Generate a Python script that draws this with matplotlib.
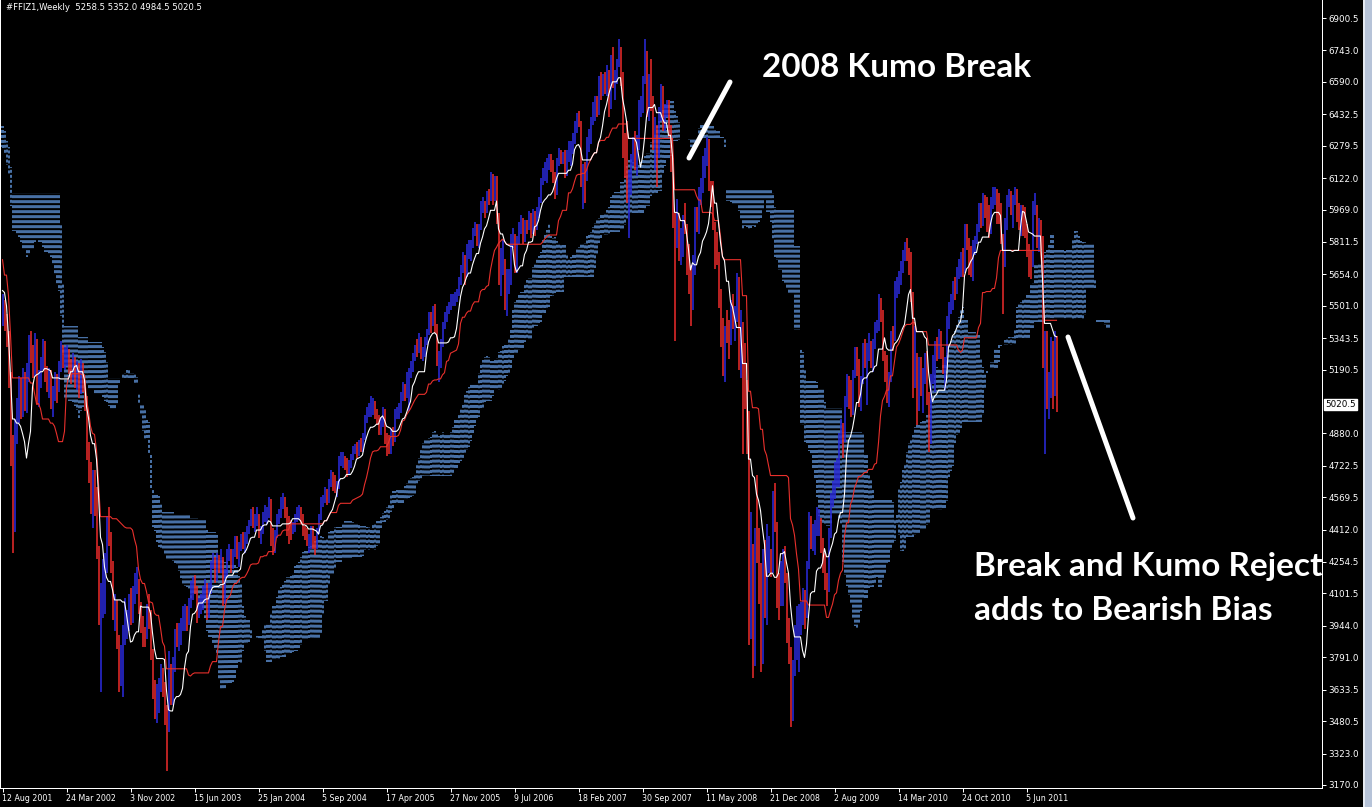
import numpy as np
import pandas as pd
import matplotlib
matplotlib.use("Agg")
import matplotlib.pyplot as plt
from matplotlib.collections import LineCollection
from matplotlib.lines import Line2D
from matplotlib.patches import Rectangle
import matplotlib.transforms as mtrans

# weekly bars of #FFIZ1, index 0 = week of 12 Aug 2001, last index 527 = week of 18 Sep 2011
first_open = 5450
closes = [
    # 2001
    5480, 5430, 5345, 5130, 4830, 4430, 4900, 4975, 5100, 5000, 5120, 5030, 5160, 5300, 5270, 5200, 5330, 5050, 5140, 5217, 5320,
    # 2002
    5170, 5130, 5160, 5050, 5060, 5150, 5100, 5200, 5290, 5250, 5260, 5270, 5210, 5170, 5240, 5130, 5200, 5080, 5200, 5100,
    5040, 4780, 4700, 4560, 4660, 4560, 4300, 4000, 4100, 4150, 4250, 4400, 4380, 4230, 4000, 4000, 3870, 3720, 3740, 3900,
    3950, 3980, 4060, 4000, 4100, 4150, 4160, 4030, 3950, 3900, 3890, 4010,
    # 2003
    3990, 3800, 3620, 3570, 3580, 3650, 3710, 3650, 3500, 3450, 3750, 3600, 3750, 3900, 3880, 3900, 3950, 3970, 4000, 3980,
    4050, 4100, 4150, 4130, 4000, 4050, 4050, 4100, 4130, 4000, 4130, 4240, 4270, 4170, 4260, 4240, 4280, 4070, 4190, 4300,
    4300, 4250, 4300, 4350, 4300, 4330, 4370, 4350, 4370, 4400, 4450, 4500,
    # 2004
    4450, 4460, 4480, 4390, 4400, 4480, 4490, 4490, 4550, 4370, 4350, 4390, 4470, 4490, 4550, 4560, 4490, 4440, 4430, 4420,
    4430, 4470, 4500, 4500, 4470, 4400, 4390, 4350, 4350, 4410, 4350, 4340, 4400, 4470, 4550, 4560, 4590, 4550, 4640, 4670,
    4650, 4620, 4620, 4750, 4750, 4750, 4720, 4700, 4720, 4760, 4800, 4810,
    # 2005
    4800, 4830, 4810, 4860, 4950, 4990, 5000, 5000, 5010, 4980, 4960, 4900, 4930, 4990, 4850, 4820, 4800, 4880, 4850, 4980,
    4980, 5000, 5050, 5110, 5060, 5160, 5180, 5200, 5250, 5290, 5280, 5340, 5260, 5270, 5330, 5370, 5450, 5410, 5480, 5400,
    5240, 5240, 5320, 5400, 5440, 5480, 5500, 5530, 5530, 5540, 5560, 5620,
    # 2006
    5680, 5730, 5650, 5780, 5780, 5790, 5860, 5880, 5820, 5880, 5990, 5990, 5960, 6030, 6020, 6130, 6020, 6100, 5930, 5660,
    5720, 5720, 5500, 5620, 5630, 5830, 5830, 5700, 5820, 5890, 5900, 5830, 5900, 5880, 5930, 5860, 5950, 5870, 5960, 6010,
    6100, 6150, 6150, 6200, 6200, 6190, 6130, 6050, 6200, 6250, 6220, 6220,
    # 2007
    6160, 6240, 6240, 6260, 6310, 6370, 6420, 6400, 6120, 6160, 6130, 6300, 6310, 6400, 6470, 6470, 6450, 6600, 6550, 6600,
    6550, 6600, 6480, 6700, 6580, 6600, 6680, 6720, 6600, 6250, 6230, 6040, 6060, 6210, 6300, 6200, 6300, 6460, 6470, 6590,
    6730, 6450, 6600, 6500, 6300, 6350, 6250, 6430, 6550, 6400, 6460, 6460,
    # 2008
    6350, 6200, 5900, 5870, 5880, 5780, 5790, 5890, 5880, 5700, 5690, 5500, 5690, 5950, 5900, 6060, 6090, 6200, 6220, 6300,
    6090, 6050, 5900, 5800, 5750, 5530, 5410, 5260, 5380, 5360, 5350, 5500, 5450, 5450, 5640, 5240, 5420, 5310, 5090, 4980,
    3950, 4250, 3880, 4380, 4370, 4230, 3780, 4290, 4050, 4280, 4320, 4220,
    # 2009
    4560, 4450, 4150, 4050, 4150, 4290, 4190, 3890, 3830, 3530, 3750, 3840, 3900, 3990, 3990, 4090, 4000, 4240, 4460, 4350,
    4380, 4420, 4440, 4440, 4350, 4240, 4150, 4130, 4390, 4560, 4610, 4700, 4720, 4850, 4900, 4850, 5040, 5130, 5050, 4990,
    5160, 5280, 5200, 5040, 5130, 5300, 5250, 5250, 5320, 5260, 5300, 5400, 5410,
    # 2010
    5530, 5460, 5260, 5190, 5060, 5140, 5360, 5350, 5600, 5600, 5650, 5700, 5750, 5790, 5740, 5720, 5550, 5120, 5260, 5060,
    5190, 5130, 5160, 5250, 5050, 4840, 5150, 5160, 5310, 5260, 5330, 5270, 5200, 5200, 5430, 5500, 5510, 5600, 5590, 5660,
    5700, 5740, 5670, 5880, 5800, 5730, 5670, 5790, 5810, 5880, 5990, 5900,
    # 2011
    6000, 5990, 5900, 5880, 6000, 6040, 6050, 6000, 5990, 5830, 5720, 5900, 6010, 6040, 5990, 6020, 6050, 5980, 5920, 5950,
    5940, 5860, 5770, 5710, 5700, 5990, 5990, 5840, 5900, 5800, 5250, 5320, 5040, 5130, 5290, 5210, 5258.5, 5020.5,
]
highs = [
    # 2001
    5560, 5530, 5460, 5380, 5180, 4870, 4950, 5050, 5160, 5150, 5200, 5180, 5220, 5360, 5380, 5310, 5370, 5340, 5190, 5250, 5340,
    # 2002
    5330, 5210, 5200, 5190, 5110, 5180, 5170, 5230, 5330, 5310, 5300, 5310, 5290, 5240, 5270, 5250, 5230, 5220, 5240, 5220,
    5130, 5060, 4840, 4740, 4700, 4700, 4620, 4330, 4150, 4270, 4300, 4480, 4520, 4400, 4260, 4100, 4070, 3900, 3850, 3950,
    4080, 4020, 4100, 4130, 4140, 4200, 4230, 4170, 4060, 3990, 3940, 4050,
    # 2003
    4100, 4020, 3830, 3680, 3660, 3690, 3760, 3740, 3670, 3560, 3820, 3760, 3790, 3930, 3960, 3960, 3980, 4040, 4050, 4040,
    4080, 4160, 4180, 4190, 4140, 4080, 4100, 4140, 4170, 4150, 4150, 4260, 4300, 4280, 4300, 4290, 4320, 4280, 4220, 4320,
    4340, 4320, 4320, 4380, 4380, 4350, 4390, 4400, 4400, 4430, 4460, 4510,
    # 2004
    4520, 4490, 4520, 4490, 4430, 4500, 4530, 4520, 4570, 4560, 4420, 4410, 4490, 4510, 4570, 4590, 4570, 4520, 4480, 4460,
    4450, 4490, 4520, 4530, 4520, 4490, 4430, 4420, 4390, 4430, 4430, 4380, 4420, 4490, 4570, 4580, 4620, 4610, 4660, 4700,
    4690, 4680, 4650, 4770, 4790, 4790, 4770, 4760, 4750, 4780, 4820, 4830,
    # 2005
    4840, 4850, 4860, 4880, 4970, 5010, 5030, 5060, 5050, 5040, 5000, 4970, 4960, 5010, 5000, 4880, 4870, 4900, 4910, 5000,
    5010, 5030, 5080, 5130, 5120, 5180, 5200, 5230, 5270, 5310, 5340, 5370, 5350, 5300, 5350, 5390, 5470, 5470, 5500, 5510,
    5410, 5280, 5340, 5420, 5470, 5500, 5520, 5560, 5560, 5570, 5580, 5640,
    # 2006
    5700, 5760, 5750, 5800, 5820, 5820, 5880, 5910, 5900, 5900, 6010, 6030, 6010, 6060, 6070, 6150, 6140, 6130, 6130, 5950,
    5780, 5820, 5730, 5680, 5680, 5850, 5880, 5850, 5840, 5910, 5940, 5930, 5920, 5920, 5960, 5950, 5970, 5960, 5980, 6030,
    6120, 6170, 6200, 6220, 6240, 6240, 6210, 6150, 6220, 6270, 6260, 6250,
    # 2007
    6260, 6260, 6300, 6300, 6340, 6400, 6440, 6450, 6400, 6190, 6200, 6320, 6360, 6420, 6490, 6520, 6520, 6620, 6640, 6630,
    6640, 6670, 6650, 6720, 6760, 6650, 6700, 6800, 6760, 6640, 6340, 6400, 6160, 6240, 6320, 6350, 6330, 6500, 6520, 6620,
    6800, 6740, 6630, 6700, 6520, 6420, 6380, 6470, 6580, 6570, 6480, 6500,
    # 2008
    6500, 6380, 6220, 5950, 6020, 5950, 5880, 5940, 6000, 5900, 5800, 5700, 5750, 5980, 5980, 6080, 6120, 6230, 6270, 6320,
    6310, 6110, 6110, 5910, 5860, 5760, 5580, 5440, 5400, 5480, 5430, 5530, 5560, 5500, 5660, 5640, 5480, 5420, 5320, 5140,
    4990, 4500, 4340, 4420, 4680, 4420, 4250, 4320, 4360, 4440, 4380, 4320,
    # 2009
    4600, 4640, 4450, 4200, 4260, 4320, 4330, 4200, 3980, 3840, 3780, 3950, 4040, 4050, 4060, 4130, 4120, 4260, 4500, 4480,
    4440, 4460, 4520, 4510, 4470, 4370, 4300, 4200, 4420, 4590, 4650, 4740, 4760, 4880, 4950, 4930, 5060, 5170, 5160, 5140,
    5190, 5300, 5300, 5240, 5160, 5320, 5340, 5320, 5370, 5330, 5340, 5420, 5430,
    # 2010
    5560, 5540, 5480, 5280, 5260, 5180, 5380, 5400, 5620, 5640, 5670, 5720, 5770, 5810, 5830, 5780, 5760, 5570, 5400, 5270,
    5250, 5250, 5200, 5270, 5280, 5080, 5170, 5260, 5330, 5350, 5390, 5380, 5300, 5250, 5450, 5520, 5560, 5620, 5640, 5690,
    5730, 5760, 5780, 5900, 5900, 5830, 5790, 5820, 5840, 5900, 6000, 6000,
    # 2011
    6050, 6040, 6030, 5990, 6030, 6080, 6080, 6070, 6050, 6000, 5850, 5930, 6040, 6070, 6060, 6040, 6080, 6070, 6000, 5990,
    5990, 5980, 5900, 5800, 5770, 6010, 6050, 5990, 5930, 5920, 5840, 5380, 5380, 5180, 5350, 5330, 5380, 5352.0,
]
lows = [
    # 2001
    5400, 5380, 5300, 5100, 4720, 4300, 4400, 4830, 4930, 4950, 4960, 4990, 4980, 5130, 5220, 5150, 5160, 5020, 5010, 5100, 5190,
    # 2002
    5130, 5080, 5050, 5000, 4960, 5040, 5030, 5080, 5180, 5200, 5190, 5210, 5170, 5120, 5140, 5100, 5090, 5050, 5070, 5080,
    4990, 4750, 4640, 4490, 4420, 4480, 4270, 3950, 3620, 3980, 4000, 4200, 4330, 4200, 3970, 3920, 3830, 3620, 3650, 3600,
    3850, 3880, 3920, 3950, 3960, 4050, 4100, 4000, 3910, 3840, 3840, 3880,
    # 2003
    3930, 3780, 3590, 3490, 3470, 3520, 3620, 3600, 3460, 3240, 3430, 3560, 3560, 3720, 3840, 3820, 3850, 3920, 3920, 3920,
    3950, 4030, 4070, 4100, 3960, 3980, 4000, 4020, 4060, 3970, 3980, 4100, 4220, 4150, 4160, 4200, 4200, 4040, 4050, 4180,
    4260, 4200, 4220, 4280, 4270, 4230, 4310, 4320, 4300, 4340, 4390, 4430,
    # 2004
    4420, 4400, 4430, 4370, 4340, 4390, 4450, 4440, 4470, 4330, 4290, 4300, 4370, 4440, 4470, 4510, 4470, 4380, 4340, 4360,
    4390, 4400, 4450, 4460, 4440, 4380, 4360, 4330, 4300, 4320, 4320, 4290, 4320, 4390, 4460, 4520, 4540, 4530, 4540, 4620,
    4600, 4590, 4570, 4610, 4720, 4710, 4700, 4670, 4680, 4710, 4750, 4780,
    # 2005
    4760, 4770, 4790, 4790, 4850, 4930, 4960, 4960, 4970, 4950, 4920, 4870, 4870, 4910, 4830, 4770, 4780, 4780, 4820, 4840,
    4950, 4950, 4980, 5040, 5040, 5050, 4990, 5150, 5180, 5230, 5250, 5270, 5240, 5230, 5250, 5310, 5360, 5370, 5400, 5370,
    5210, 5130, 5200, 5300, 5390, 5420, 5460, 5480, 5500, 5500, 5520, 5550,
    # 2006
    5600, 5660, 5600, 5640, 5730, 5720, 5780, 5840, 5790, 5780, 5870, 5950, 5930, 5950, 5990, 6010, 5990, 6010, 5900, 5600,
    5550, 5650, 5480, 5450, 5560, 5600, 5780, 5660, 5660, 5800, 5850, 5800, 5810, 5850, 5870, 5830, 5850, 5840, 5870, 5930,
    6000, 6090, 6110, 6100, 6160, 6150, 6100, 6020, 6040, 6180, 6190, 6190,
    # 2007
    6120, 6130, 6200, 6180, 6240, 6290, 6340, 6370, 6080, 5970, 6000, 6110, 6250, 6290, 6380, 6400, 6420, 6430, 6500, 6520,
    6530, 6520, 6420, 6460, 6560, 6500, 6580, 6660, 6570, 6220, 6120, 6000, 5830, 6040, 6180, 6160, 6130, 6260, 6420, 6440,
    6580, 6420, 6400, 6450, 6260, 6160, 6080, 6220, 6400, 6350, 6350, 6420,
    # 2008
    6320, 6150, 5880, 5330, 5780, 5720, 5700, 5740, 5850, 5650, 5560, 5400, 5480, 5650, 5860, 5850, 5990, 6050, 6120, 6180,
    6060, 5980, 5870, 5680, 5700, 5490, 5300, 5160, 5130, 5320, 5240, 5310, 5390, 5330, 5420, 5190, 5150, 4780, 5000, 4780,
    3850, 3880, 3690, 3750, 4250, 4050, 3720, 3760, 3980, 3950, 4200, 4180,
    # 2009
    4200, 4400, 4030, 3970, 4040, 4040, 4150, 3860, 3760, 3450, 3480, 3700, 3780, 3720, 3900, 3950, 3930, 3980, 4220, 4320,
    4310, 4290, 4380, 4380, 4300, 4200, 4120, 4040, 4110, 4370, 4520, 4560, 4620, 4620, 4830, 4760, 4840, 5010, 5000, 4960,
    4970, 5150, 5160, 5010, 4990, 5120, 5200, 5020, 5230, 5200, 5180, 5290, 5370,
    # 2010
    5380, 5420, 5230, 5130, 5030, 5010, 5130, 5280, 5330, 5540, 5560, 5600, 5660, 5720, 5720, 5650, 5520, 5050, 5100, 4920,
    4990, 5060, 4980, 5120, 5020, 4790, 4830, 5120, 5080, 5230, 5240, 5240, 5170, 5090, 5190, 5390, 5460, 5480, 5530, 5560,
    5630, 5640, 5640, 5660, 5770, 5650, 5640, 5620, 5750, 5800, 5860, 5880,
    # 2011
    5890, 5930, 5860, 5830, 5850, 5970, 5990, 5900, 5900, 5800, 5460, 5690, 5870, 5980, 5940, 5880, 5990, 5910, 5870, 5840,
    5840, 5830, 5740, 5640, 5630, 5690, 5940, 5780, 5760, 5770, 5200, 4780, 5000, 4950, 5050, 5000, 5060, 4984.5,
]

# 78 weeks before the first visible bar (Feb 2000 - Aug 2001), only feed the Ichimoku windows
pre_highs = [
    6350, 6280, 6300, 6450, 6500, 6700, 6750, 6650, 6500, 6350, 6400, 6450, 6450, 6350, 6300, 6450, 6550, 6550, 6500, 6450,
    6500, 6550, 6600, 6500, 6450, 6550, 6600, 6650, 6750, 6800, 6700, 6500, 6400, 6400, 6300, 6300, 6400, 6500, 6500, 6350,
    6300, 6250, 6350, 6400, 6300, 6300, 6300,
    6150, 6250, 6350, 6350, 6300, 6250, 6150, 6000, 6000, 5850, 5650, 5700, 5650, 5800, 5900, 5950, 5950, 5950, 6000, 6000,
    5950, 5950, 5850, 5750, 5750, 5700, 5600, 5550, 5600, 5600, 5550,
]
pre_lows = [
    6150, 6100, 6050, 6100, 6200, 6400, 6500, 6400, 6250, 6050, 6200, 6250, 6200, 6150, 6100, 6250, 6350, 6400, 6300, 6300,
    6300, 6400, 6450, 6300, 6300, 6400, 6450, 6500, 6600, 6620, 6450, 6250, 6200, 6200, 6050, 6100, 6200, 6300, 6250, 6150,
    6050, 6050, 6100, 6200, 6100, 6150, 6050,
    5950, 6050, 6150, 6150, 6100, 6000, 5900, 5800, 5750, 5550, 5300, 5400, 5400, 5550, 5700, 5800, 5800, 5800, 5850, 5850,
    5750, 5800, 5650, 5600, 5600, 5500, 5400, 5400, 5400, 5450, 5400,
]

date_labels = ["12 Aug 2001", "24 Mar 2002", "3 Nov 2002", "15 Jun 2003", "25 Jan 2004", "5 Sep 2004",
               "17 Apr 2005", "27 Nov 2005", "9 Jul 2006", "18 Feb 2007", "30 Sep 2007", "11 May 2008",
               "21 Dec 2008", "2 Aug 2009", "14 Mar 2010", "24 Oct 2010", "5 Jun 2011"]
date_weeks = [0, 32, 64, 96, 128, 160, 192, 224, 256, 288, 320, 352, 384, 416, 448, 480, 512]
price_ticks = [6900.5, 6743.0, 6590.0, 6432.5, 6279.5, 6122.0, 5969.0, 5811.5, 5654.0, 5501.0, 5343.5,
               5190.5, 4880.0, 4722.5, 4569.5, 4412.0, 4254.5, 4101.5, 3944.0, 3791.0, 3633.5, 3480.5,
               3323.0, 3170.0]
last_price = 5020.5
header = "#FFIZ1,Weekly  5258.5 5352.0 4984.5 5020.5"

assert len(closes) == len(highs) == len(lows) == 528
assert len(pre_highs) == len(pre_lows) == 78

plt.rcParams["lines.scale_dashes"] = False

# Ichimoku (9, 26, 52)
n_pre = len(pre_highs)
h_all = pd.Series(pre_highs + highs, dtype=float)
l_all = pd.Series(pre_lows + lows, dtype=float)


def midline(period):
    return (h_all.rolling(period).max() + l_all.rolling(period).min()) / 2


tenkan = midline(9)
kijun = midline(26)
span_a = (tenkan + kijun) / 2
span_b = midline(52)
week_all = np.arange(len(h_all)) - n_pre

W, H = 1372, 807
PX = 0.72  # points per pixel at dpi 100
plot_w, plot_h = 1322, 788


def py_to_price(py):
    return 6900.5 - (py - 18) * 4.864


y_lo, y_hi = py_to_price(plot_h), py_to_price(0)

fig = plt.figure(figsize=(W / 100, H / 100), dpi=100, facecolor="black")
ax = fig.add_axes([0, (H - plot_h) / H, plot_w / W, plot_h / H], facecolor="black")
ax.set_xlim(-1.25, (plot_w - 2.5) / 2)
ax.set_ylim(y_lo, y_hi)

# Kumo: dotted vertical lines between the spans, 26 weeks ahead
cloud_col = "#6096dc"
shift_x = week_all + 26
ok = span_b.notna().values & (shift_x >= -1)
segs, styles = [], []
for x, a, b in zip(shift_x[ok], span_a.values[ok], span_b.values[ok]):
    top, bot = max(a, b), min(a, b)
    py = (y_hi - top) / (y_hi - y_lo) * plot_h
    segs.append([(x, top), (x, bot)])
    styles.append(((py % 5) * PX, (3 * PX, 2 * PX)))
ax.add_collection(LineCollection(segs, colors=cloud_col, linewidths=1.5 * PX, linestyles=styles, zorder=1))

# price bars
weeks = np.arange(len(closes))
opens = [first_open] + closes[:-1]
bar_cols = ["#2a2ad8" if c >= o else "#e42a2a" for o, c in zip(opens, closes)]
ax.vlines(weeks, lows, highs, colors=bar_cols, linewidth=1.6 * PX, zorder=2)

vis = week_all >= 0
ax.plot(week_all[vis], kijun.values[vis], color="#e8302c", lw=0.8, zorder=3)
ax.plot(week_all[vis], tenkan.values[vis], color="white", lw=0.8, zorder=4)

# axes frame and ticks
for side in ["left", "right", "bottom"]:
    ax.spines[side].set_color("white")
    ax.spines[side].set_linewidth(PX)
ax.spines["top"].set_visible(False)
ax.yaxis.tick_right()
ax.set_yticks(price_ticks)
ax.set_yticklabels([f"{p:.1f}" for p in price_ticks])
ax.set_xticks(date_weeks)
ax.set_xticklabels(date_labels)
ax.tick_params(colors="white", labelcolor="white", labelsize=6.3, length=3, width=PX, pad=1.5)
ax.tick_params(axis="x", labelsize=5.7)
for lab in ax.get_xticklabels():
    lab.set_horizontalalignment("left")

trans = mtrans.blended_transform_factory(ax.transAxes, ax.transData)
ax.text(1.0 + 3 / plot_w, last_price, f"{last_price:.1f}", transform=trans, ha="left", va="center",
        fontsize=6.3, color="black",
        bbox=dict(boxstyle="square,pad=0.15", facecolor="white", edgecolor="white"))

# header, annotations
fig.text(6 / W, 1 - 8 / H, header, color="white", fontsize=6.1, va="center", ha="left")
note_font = dict(color="white", fontsize=24, fontweight="bold", family="Lato", ha="left", va="baseline")
fig.text(762 / W, 1 - 77 / H, "2008 Kumo Break", **note_font)
fig.text(974 / W, 1 - 576 / H, "Break and Kumo Reject", **note_font)
fig.text(974 / W, 1 - 620 / H, "adds to Bearish Bias", **note_font)
fig.add_artist(Line2D([689 / W, 730 / W], [1 - 158 / H, 1 - 82 / H], color="white", lw=3.6,
                      solid_capstyle="round"))
fig.add_artist(Line2D([1068 / W, 1133 / W], [1 - 337 / H, 1 - 518 / H], color="white", lw=3.6,
                      solid_capstyle="round"))

# window scrollbar strip on the right
fig.patches.append(Rectangle((1363 / W, 0), 9 / W, 1, transform=fig.transFigure,
                             facecolor="#b6c3d8", edgecolor="none"))
fig.patches.append(Rectangle((1363 / W, 0), 2 / W, 1, transform=fig.transFigure,
                             facecolor="#e4e9f1", edgecolor="none"))

fig.savefig("out.png", dpi=100, facecolor="black")
